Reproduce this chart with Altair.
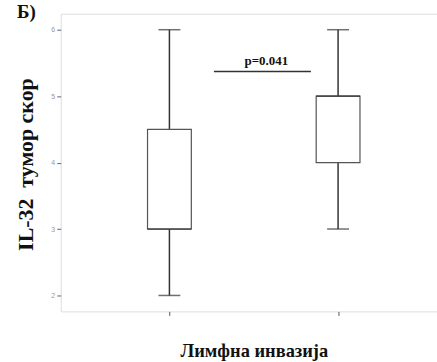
import altair as alt
import pandas as pd

# box-plot statistics (IL-32 tumour score by lymphatic invasion)
group_pos = [1, 2]
group_name = ["Без инвазије", "Са инвазијом"]
mins = [2, 3]
q1s = [3, 4]
medians = [3, 5]
q3s = [4.5, 5]
maxs = [6, 6]

# p-value annotation
p_label = ["p=0.041"]
p_x_start = [1.264]
p_x_end = [1.839]
p_x_text = [1.575]
p_y_line = [5.37]
p_y_text = [5.53]

df = pd.DataFrame({"pos": group_pos, "group": group_name, "lo": mins, "q1": q1s,
                   "med": medians, "q3": q3s, "hi": maxs})
ann = pd.DataFrame({"label": p_label, "x1": p_x_start, "x2": p_x_end, "xt": p_x_text,
                    "yl": p_y_line, "yt": p_y_text})

xscale = alt.Scale(domain=[0.385, 2.557], nice=False, zero=False)
yscale = alt.Scale(domain=[1.76, 6.24], nice=False, zero=False)

x_axis = alt.Axis(values=[1, 2], labels=False, domain=False, ticks=True, tickSize=4,
                  tickColor="#555", grid=False, title="Лимфна инвазија",
                  titleFont="Liberation Serif", titleFontSize=18.5, titleFontWeight="bold",
                  titleColor="#111", titleX=194, titleY=45, titleBaseline="alphabetic")
y_axis = alt.Axis(values=[2, 3, 4, 5, 6], format="d", domain=False, tickSize=4,
                  tickColor="#666", labelFontSize=7, labelColor="#999", labelPadding=2,
                  grid=False, title="IL-32\u00a0\u00a0тумор скор", titleFont="Liberation Serif",
                  titleFontSize=22, titleFontWeight="bold", titleColor="#111", titleX=-28,
                  titleY=151, titleBaseline="alphabetic", titleAngle=-90)

base = alt.Chart(df)
whisk = base.mark_rule(color="#333", strokeWidth=1.5).encode(
    x=alt.X("pos:Q", scale=xscale, axis=x_axis),
    y=alt.Y("lo:Q", scale=yscale, axis=y_axis),
    y2="hi:Q")
box = base.mark_bar(size=44, fill="white", stroke="#555", strokeWidth=1.2).encode(
    x=alt.X("pos:Q", scale=xscale), y=alt.Y("q1:Q", scale=yscale), y2="q3:Q")
cap_lo = base.mark_tick(orient="horizontal", size=22, thickness=1.5, color="#333").encode(
    x=alt.X("pos:Q", scale=xscale), y=alt.Y("lo:Q", scale=yscale))
cap_hi = base.mark_tick(orient="horizontal", size=22, thickness=1.5, color="#333").encode(
    x=alt.X("pos:Q", scale=xscale), y=alt.Y("hi:Q", scale=yscale))
med = base.mark_tick(orient="horizontal", size=44, thickness=1.8, color="#333").encode(
    x=alt.X("pos:Q", scale=xscale), y=alt.Y("med:Q", scale=yscale))

pline = alt.Chart(ann).mark_rule(color="#333", strokeWidth=1.5).encode(
    x=alt.X("x1:Q", scale=xscale), x2="x2:Q", y=alt.Y("yl:Q", scale=yscale))
ptext = alt.Chart(ann).mark_text(font="Liberation Serif", fontSize=13, fontWeight="bold",
                                 color="#111").encode(
    x=alt.X("xt:Q", scale=xscale), y=alt.Y("yt:Q", scale=yscale), text="label:N")

chart = alt.layer(whisk, box, cap_lo, cap_hi, med, pline, ptext).properties(
    width=378, height=299,
    padding={"left": 61, "top": 13, "right": 0, "bottom": 50},
    autosize=alt.AutoSizeParams(type="none"),
    title=alt.TitleParams("Б)", anchor="start", align="left", frame="group",
                          font="Liberation Serif", fontSize=19, fontWeight="bold",
                          color="#111", dx=-44, dy=23, offset=0, baseline="alphabetic"),
).configure_view(stroke="#777", strokeWidth=1.5).configure(background="white")

chart.save("out.html", embed_options={"renderer": "svg", "actions": False})
